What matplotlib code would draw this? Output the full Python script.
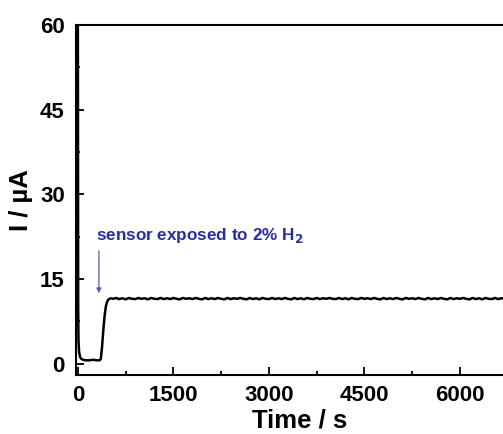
import matplotlib
matplotlib.use("Agg")
from matplotlib import pyplot as plt
from matplotlib.ticker import MultipleLocator
import numpy as np

plt.rcParams['font.family'] = ['Liberation Sans', 'DejaVu Sans']
plt.rcParams['font.weight'] = 'bold'
plt.rcParams['mathtext.default'] = 'bf'

# initial transient + baseline + response
t_start = [0, 2, 5, 10, 20, 35, 50, 80, 120, 180, 240, 300, 340, 360,
           380, 400, 420, 440, 460, 480, 500, 520]
i_start = [60, 30, 10, 4.0, 2.0, 1.2, 0.9, 0.7, 0.6, 0.6, 0.7, 0.6, 0.6, 0.8,
           3.0, 6.0, 8.5, 10.2, 11.0, 11.4, 11.5, 11.6]

# plateau, every 50 s, small ripple seen in the trace
t_plateau = list(range(550, 7550, 50))
i_plateau = [11.5, 11.65, 11.45, 11.6, 11.4, 11.65, 11.5, 11.45, 11.65, 11.5,
             11.6, 11.4, 11.65, 11.5, 11.45, 11.65, 11.45, 11.6, 11.45, 11.65,
             11.5, 11.4, 11.65, 11.5, 11.6, 11.45, 11.65, 11.5, 11.4, 11.65,
             11.45, 11.6, 11.45, 11.65, 11.5, 11.4, 11.65, 11.45, 11.6, 11.5,
             11.65, 11.5, 11.4, 11.65, 11.45, 11.6, 11.4, 11.65, 11.5, 11.45,
             11.65, 11.45, 11.6, 11.45, 11.65, 11.5, 11.4, 11.65, 11.45, 11.6,
             11.4, 11.65, 11.5, 11.45, 11.65, 11.45, 11.6, 11.5, 11.65, 11.5,
             11.45, 11.65, 11.45, 11.6, 11.4, 11.65, 11.5, 11.45, 11.65, 11.5,
             11.6, 11.45, 11.65, 11.5, 11.4, 11.65, 11.45, 11.6, 11.45, 11.65,
             11.5, 11.4, 11.65, 11.5, 11.6, 11.45, 11.65, 11.5, 11.4, 11.65,
             11.45, 11.6, 11.45, 11.65, 11.5, 11.4, 11.65, 11.45, 11.6, 11.5,
             11.65, 11.5, 11.4, 11.65, 11.45, 11.6, 11.4, 11.65, 11.5, 11.45,
             11.65, 11.45, 11.6, 11.45, 11.65, 11.5, 11.4, 11.65, 11.45, 11.6,
             11.4, 11.65, 11.5, 11.45, 11.65, 11.45, 11.6, 11.5, 11.65, 11.5]

time_s = np.array(t_start + t_plateau)
current = np.array(i_start + i_plateau)

fig = plt.figure(figsize=(5.03, 4.34), dpi=100)
ax = fig.add_axes([0.151, 0.136, 0.89, 0.806])

ax.plot(time_s, current, color='black', lw=1.8)

ax.set_xlim(-30, 7000)
ax.set_ylim(-2, 60)
ax.xaxis.set_major_locator(MultipleLocator(1500))
ax.xaxis.set_minor_locator(MultipleLocator(750))
ax.yaxis.set_major_locator(MultipleLocator(15))
ax.yaxis.set_minor_locator(MultipleLocator(7.5))
ax.tick_params(which='both', direction='in', width=1.3, labelsize=16)
ax.tick_params(which='major', length=6)
ax.tick_params(which='minor', length=3)
ax.tick_params(axis='x', pad=7)
ax.tick_params(axis='y', pad=8)
for s in ax.spines.values():
    s.set_linewidth(1.5)

ax.set_xlabel('Time / s', fontsize=18.5, fontweight='bold', labelpad=2)
ax.set_ylabel('I / µA', fontsize=18.5, fontweight='bold', labelpad=5)

blue = '#2b2ba3'
ax.annotate('', xy=(330, 12.0), xytext=(330, 20.5),
            arrowprops=dict(arrowstyle='-|>', color='#5a5ab0', lw=0.9,
                            mutation_scale=7))
ax.text(290, 21.1, 'sensor exposed to 2% H$_2$', color=blue, fontsize=12.3,
        fontweight='bold', va='bottom', ha='left')

fig.savefig('out.png', dpi=100)
